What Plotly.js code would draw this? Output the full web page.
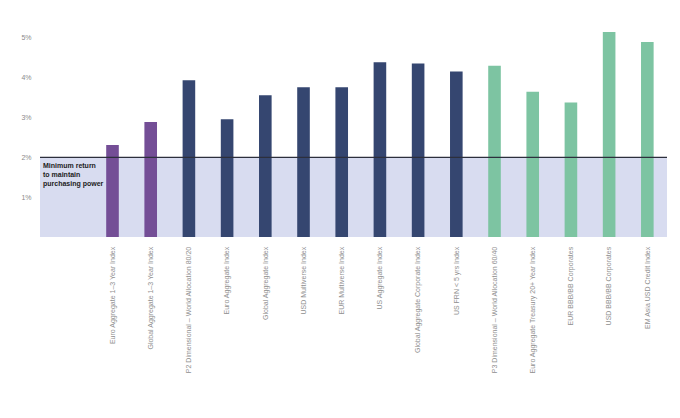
<!DOCTYPE html>
<html>
<head>
<meta charset="utf-8">
<script src="https://cdn.plot.ly/plotly-3.0.1.min.js"></script>
<style>html,body{margin:0;padding:0;background:#fff;}#chart{width:680px;height:418px;}</style>
</head>
<body>
<div id="chart"></div>
<script>
const categories = [
  "Euro Aggregate 1–3 Year Index",
  "Global Aggregate 1–3 Year Index",
  "P2 Dimensional – World Allocation 80/20",
  "Euro Aggregate Index",
  "Global Aggregate Index",
  "USD Multiverse Index",
  "EUR Multiverse Index",
  "US Aggregate Index",
  "Global Aggregate Corporate Index",
  "US FRN < 5 yrs Index",
  "P3 Dimensional – World Allocation 60/40",
  "Euro Aggregate Treasury 20+ Year Index",
  "EUR BBB/BB Corporates",
  "USD BBB/BB Corporates",
  "EM Asia USD Credit Index"
];
const returns = [2.31, 2.89, 3.94, 2.96, 3.56, 3.76, 3.76, 4.39, 4.36, 4.16, 4.30, 3.65, 3.38, 5.15, 4.90];
const groups = ["short","short","core","core","core","core","core","core","core","core","credit","credit","credit","credit","credit"];
const minReturn = 2;
const yTicks = [1, 2, 3, 4, 5];
const yTickText = ["1%", "2%", "3%", "4%", "5%"];

const groupColors = {short: "#744e96", core: "#354670", credit: "#7dc4a2"};
const xPos = categories.map((c, i) => i + 1);

const trace = {
  type: "bar",
  x: xPos,
  y: returns,
  width: 0.33,
  marker: {color: groups.map(g => groupColors[g]), line: {width: 0}},
  hoverinfo: "skip"
};

const font = "'Liberation Sans', Arial, sans-serif";

const layout = {
  width: 680,
  height: 418,
  margin: {l: 40, r: 13, t: 25.5, b: 180.5},
  paper_bgcolor: "#ffffff",
  plot_bgcolor: "rgba(0,0,0,0)",
  showlegend: false,
  font: {family: font, size: 7, color: "#8a8a8a"},
  xaxis: {
    range: [-0.898, 15.515],
    tickvals: xPos,
    ticktext: categories,
    tickangle: -90,
    showgrid: false,
    zeroline: false,
    showline: false,
    ticks: "outside",
    ticklen: 6,
    tickcolor: "rgba(0,0,0,0)",
    tickfont: {family: font, size: 7, color: "#8f8f8f"},
    fixedrange: true
  },
  yaxis: {
    range: [0, 5.3],
    tickvals: yTicks,
    ticktext: yTickText,
    showgrid: false,
    zeroline: false,
    showline: false,
    ticks: "outside",
    ticklen: 6,
    tickcolor: "rgba(0,0,0,0)",
    tickfont: {family: font, size: 7, color: "#8a8a8a"},
    fixedrange: true
  },
  shapes: [
    {type: "rect", xref: "paper", yref: "y", x0: 0, x1: 1, y0: 0, y1: minReturn,
     fillcolor: "#d8dcf0", line: {width: 0}, layer: "below"},
    {type: "line", xref: "paper", yref: "y", x0: 0, x1: 1, y0: minReturn, y1: minReturn,
     line: {color: "#2c2f3c", width: 1.3}, layer: "above"}
  ],
  annotations: [
    {xref: "paper", yref: "y", x: 0.002, y: minReturn, xanchor: "left", yanchor: "top",
     yshift: -3, align: "left", showarrow: false,
     text: "Minimum return<br>to maintain<br>purchasing power",
     font: {family: "'Liberation Sans', Arial, sans-serif", size: 7, color: "#222222", weight: "bold"}}
  ]
};

Plotly.newPlot("chart", [trace], layout, {displayModeBar: false, staticPlot: true});
</script>
</body>
</html>
